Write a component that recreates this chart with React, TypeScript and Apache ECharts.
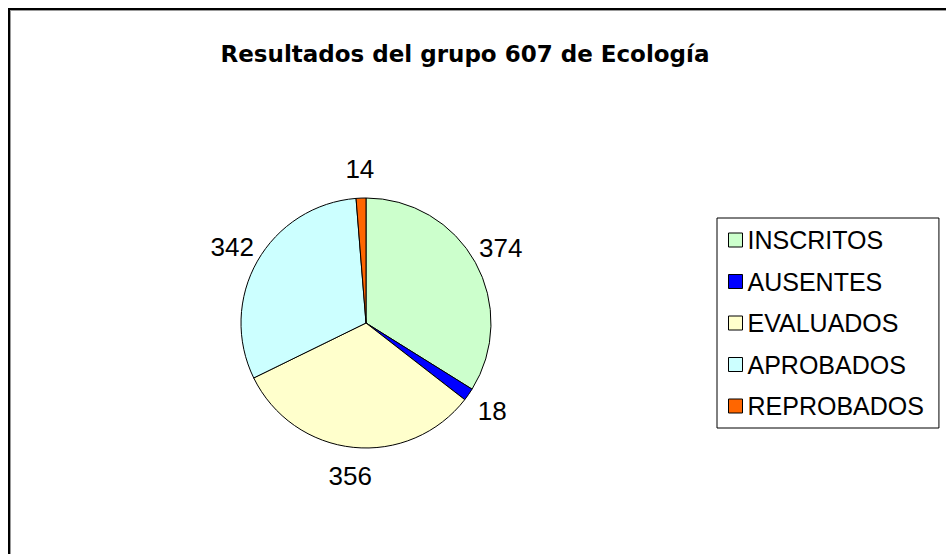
import React, { useEffect, useRef } from "react";
import * as echarts from "echarts";

// Grupo 607 de Ecología: conteo de alumnos por situación
const categories = ["INSCRITOS", "AUSENTES", "EVALUADOS", "APROBADOS", "REPROBADOS"];
const values = [374, 18, 356, 342, 14];
const colors = ["#CCFFCC", "#0000FF", "#FFFFCC", "#CCFFFF", "#FF6600"];
const titleText = "Resultados del grupo 607 de Ecología";

const TITLE_FONT = "'DejaVu Sans', Verdana, sans-serif";
const FONT = "'Liberation Sans', Arial, sans-serif";

export default function App() {
  const ref = useRef<HTMLDivElement>(null);

  useEffect(() => {
    if (!ref.current) return;
    const chart = echarts.init(ref.current, undefined, { renderer: "svg" });
    chart.setOption({
      animation: false,
      backgroundColor: "#ffffff",
      title: {
        text: titleText,
        left: 454,
        top: 31,
        padding: 0,
        textAlign: "center",
        textStyle: {
          fontFamily: TITLE_FONT,
          fontSize: 23,
          fontWeight: "bold",
          color: "#000",
        },
      },
      legend: {
        orient: "vertical",
        left: 706,
        top: 207,
        padding: [9.5, 15, 9.5, 11],
        itemGap: 16.5,
        itemWidth: 14,
        itemHeight: 14,
        icon: "rect",
        borderColor: "#000",
        borderWidth: 1,
        backgroundColor: "#fff",
        data: categories,
        itemStyle: { borderColor: "#000", borderWidth: 1 },
        textStyle: {
          fontFamily: FONT,
          fontSize: 25,
          color: "#000",
        },
      },
      series: [
        {
          type: "pie",
          center: [355, 312],
          radius: 125,
          startAngle: 90,
          clockwise: true,
          avoidLabelOverlap: false,
          data: categories.map((name, i) => ({
            name,
            value: values[i],
            itemStyle: { color: colors[i] },
          })),
          itemStyle: { borderColor: "#000", borderWidth: 1 },
          emphasis: { disabled: true },
          label: {
            show: true,
            position: "outside",
            formatter: "{c}",
            fontFamily: FONT,
            fontSize: 26,
            color: "#000",
            distanceToLabelLine: 0,
          },
          labelLine: { show: false, length: 29, length2: 0 },
          labelLayout: () => ({ align: "center", verticalAlign: "middle" }),
        },
      ],
    });
    return () => chart.dispose();
  }, []);

  return (
    <div
      style={{
        position: "fixed",
        left: 8,
        top: 8,
        width: 938,
        height: 546,
        boxSizing: "border-box",
        borderTop: "2px solid #000",
        borderLeft: "2px solid #000",
        background: "#fff",
      }}
    >
      <div
        style={{
          width: 936,
          height: 544,
          boxSizing: "border-box",
          borderTop: "1px solid #999",
          borderLeft: "1px solid #999",
        }}
      >
        <div ref={ref} style={{ width: 935, height: 543 }} />
      </div>
    </div>
  );
}
